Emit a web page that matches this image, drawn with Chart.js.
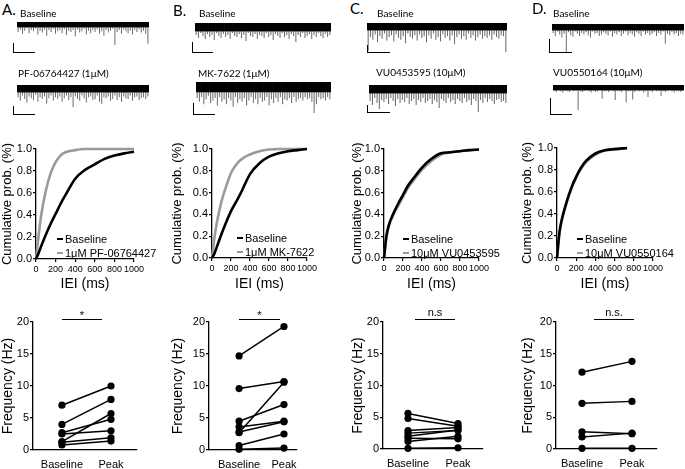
<!DOCTYPE html>
<html><head><meta charset="utf-8">
<script src="https://cdn.jsdelivr.net/npm/chart.js@4.4.0/dist/chart.umd.min.js"></script>
<style>
body{margin:0;width:685px;height:469px;position:relative;background:#fff;overflow:hidden;font-family:"Liberation Sans",Arial,sans-serif;color:#000}
.abs{position:absolute}
.lbl{position:absolute;font-family:Lato,"Open Sans",sans-serif;font-size:10px;white-space:nowrap;line-height:12px}
.pl{position:absolute;font-family:Lato,"Open Sans",sans-serif;font-size:15px;line-height:16px}
.sb{position:absolute;border-left:1.5px solid #000;border-bottom:1.5px solid #000;box-sizing:border-box}
.leg{position:absolute;font-size:11px;white-space:nowrap;line-height:14px}
.leg i{display:inline-block;width:6px;height:2.5px;vertical-align:middle;margin-right:2px;position:relative;top:-1px}
.sig{position:absolute;border-top:1.3px solid #000}
.sigt{position:absolute;font-size:11px;line-height:11px;text-align:center;white-space:nowrap}
</style></head><body>
<script>
// ---------------- DATA ----------------
const panelLetters = ['A.', 'B.', 'C.', 'D.'];
const traceBaselineLabel = 'Baseline';
const drugLabels = ['PF-06764427 (1μM)', 'MK-7622 (1μM)', 'VU0453595 (10μM)', 'VU0550164 (10μM)'];
const legendBaseline = 'Baseline';
const legendDrug = ['1μM PF-06764427', '1μM MK-7622', '10μM VU0453595', '10μM VU0550164'];
const freqCategories = ['Baseline', 'Peak'];
const sigLabels = ['*', '*', 'n.s', 'n.s.'];
const cdfXTicks = [0, 200, 400, 600, 800, 1000];
const cdfYTicks = [0, 0.2, 0.4, 0.6, 0.8, 1.0];
const freqYTicks = [0, 5, 10, 15, 20];

// example traces: event amplitudes per time bin (pA, downward), noise band +/- traceNoise
const traceNoise = 4;
const traceA_base = [12,8,15,10,6,14,9,11,7,16,10,13,8,18,9,12,7,15,11,9,14,8,17,10,12,9,19,8,13,11,7,16,10,14,9,12,8,15,11,18,9,13,10,7,33,12,9,15,8,11,14,10,16,9,12,8,13,10,15,31];
const traceA_drug = [10,14,8,12,16,9,11,13,7,15,10,12,9,17,11,8,14,10,12,9,15,11,8,13,10,21,9,12,14,8,11,16,10,9,13,12,8,15,18,10,11,9,14,12,8,13,10,15,9,11,12,8,14,10,9,13,11,10,12,9];
const traceB_base = [8,11,6,9,12,7,10,8,13,6,9,11,7,10,8,12,6,9,10,7,11,8,14,6,9,10,7,12,8,9,11,6,10,8,13,7,9,11,6,10,8,12,7,9,15,8,10,6,11,9,7,12,8,10,6,9,11,7,10,8];
const traceB_drug = [9,12,8,14,10,7,13,11,9,15,8,12,10,14,9,11,16,8,13,10,12,9,15,11,8,13,10,14,9,12,11,8,15,10,13,9,12,8,14,10,11,9,13,8,12,10,9,11,8,10,9,12,21,14,8,10,9,11,8,10];
const traceC_base = [28,12,15,9,18,11,14,8,16,12,10,17,9,13,15,11,19,8,12,14,10,16,9,13,11,18,10,14,8,15,12,17,9,13,11,16,10,20,12,9,14,11,15,8,13,10,16,12,9,14,11,13,10,15,9,12,14,10,11,29];
const traceC_drug = [12,16,9,14,20,11,13,10,15,9,12,17,10,14,11,13,9,15,12,10,16,11,13,9,14,12,10,15,11,13,19,10,12,14,9,13,11,15,10,12,14,9,13,11,16,10,12,23,11,14,9,13,10,12,15,11,10,13,12,14];
const traceD_base = [8,12,6,10,14,9,33,7,11,13,6,9,12,8,10,7,11,14,6,9,8,12,10,7,9,11,6,13,8,10,7,12,9,6,11,8,10,13,7,9,12,6,10,8,11,9,7,12,8,10,6,22,9,11,7,10,8,12,9,10];
const traceD_drug = [5,7,4,6,8,5,6,7,4,6,5,36,6,7,5,4,6,8,5,7,6,4,18,6,5,7,4,6,20,5,6,7,4,24,6,5,19,7,4,6,5,8,6,15,5,7,4,6,5,14,6,7,5,4,6,8,5,6,7,5];

// cumulative probability of inter-event interval (ms)
const ieiGrid  = [0, 25, 50, 100, 150, 200, 250, 300, 400, 500, 600, 700, 800, 900, 1000];
const ieiGridD = [0, 25, 50, 100, 150, 200, 250, 300, 400, 500, 600, 730];
const cdfA_base = [0, 0.05, 0.11, 0.22, 0.32, 0.41, 0.50, 0.58, 0.73, 0.81, 0.86, 0.91, 0.94, 0.96, 0.975];
const cdfA_drug = [0, 0.20, 0.38, 0.62, 0.78, 0.88, 0.94, 0.97, 0.99, 1.0, 1.0, 1.0, 1.0, 1.0, 1.0];
const cdfB_base = [0, 0.04, 0.10, 0.22, 0.33, 0.43, 0.51, 0.59, 0.77, 0.87, 0.93, 0.96, 0.98, 0.99, 1.0];
const cdfB_drug = [0, 0.18, 0.32, 0.52, 0.66, 0.78, 0.85, 0.90, 0.95, 0.98, 0.995, 1.0, 1.0, 1.0, 1.0];
const cdfC_base = [0, 0.20, 0.30, 0.41, 0.50, 0.58, 0.66, 0.72, 0.83, 0.91, 0.96, 0.97, 0.98, 0.99, 0.995];
const cdfC_drug = [0, 0.19, 0.29, 0.40, 0.48, 0.56, 0.64, 0.70, 0.81, 0.89, 0.95, 0.97, 0.98, 0.99, 0.995];
const cdfD_base = [0, 0.23, 0.35, 0.51, 0.64, 0.74, 0.82, 0.88, 0.95, 0.98, 0.99, 1.0];
const cdfD_drug = [0, 0.22, 0.34, 0.50, 0.63, 0.73, 0.81, 0.87, 0.94, 0.98, 0.99, 1.0];

// frequency (Hz), paired cells: baseline -> peak
const freqA_base = [7.0, 4.0, 2.7, 1.3, 2.5, 1.2, 0.8];
const freqA_peak = [10.0, 7.9, 4.8, 5.7, 3.0, 1.9, 1.4];
const freqB_base = [14.7, 9.6, 2.7, 4.5, 3.6, 2.8, 0.7, 0.1];
const freqB_peak = [19.3, 10.7, 10.6, 7.1, 4.5, 4.4, 2.5, 0.3];
const freqC_base = [5.6, 4.8, 2.9, 2.5, 2.0, 1.7, 1.2, 0.1];
const freqC_peak = [4.0, 3.6, 3.4, 2.9, 3.0, 1.6, 2.0, 0.2];
const freqD_base = [12.1, 7.2, 2.7, 1.9, 0.1];
const freqD_peak = [13.8, 7.5, 2.4, 2.5, 0.1];

// ---------------- LAYOUT ----------------
const FONT = '"Liberation Sans", Arial, sans-serif';
Chart.defaults.font.family = FONT;
Chart.defaults.color = '#000';
Chart.defaults.animation = false;
Chart.defaults.plugins.legend.display = false;
Chart.defaults.plugins.tooltip.enabled = false;

const traces = [
  [traceA_base, traceA_drug], [traceB_base, traceB_drug],
  [traceC_base, traceC_drug], [traceD_base, traceD_drug]
];
const cdfs = [
  [ieiGrid, cdfA_base, cdfA_drug], [ieiGrid, cdfB_base, cdfB_drug],
  [ieiGrid, cdfC_base, cdfC_drug], [ieiGridD, cdfD_base, cdfD_drug]
];
const freqs = [
  [freqA_base, freqA_peak], [freqB_base, freqB_peak],
  [freqC_base, freqC_peak], [freqD_base, freqD_peak]
];

const colLeft = [0, 170, 350, 520];
const colRight = [170, 350, 520, 685];
// trace boxes: [left, right, top, bottom]
const traceBoxes = [
  [[17,149,22,45],[17,149,85,107]],
  [[195,331,23,42],[196,331,82,113]],
  [[367,507,23,52],[369,507,85,112]],
  [[552,684,24,52],[553,684,85,110]]
];
const scaleBars = [
  [[13,43,22,10],[13,106,22,9]],
  [[192,42,21,11],[193,103,22,12]],
  [[367,45,23,8],[367,105,23,8]],
  [[549,39,23,14],[550,98,22,17]]
];
const letterPos = [[2,1],[173,2],[350,0],[532,0]];
const basePos = [[20,7],[199,7],[377,7],[553,7]];
const drugPos = [[18,67],[198,67],[376,66],[553,66]];
const cdfAreas = [
  {l:36,t:149,r:134,b:259},{l:212,t:149,r:307,b:258},
  {l:384,t:149,r:479,b:258},{l:557,t:148,r:653,b:258}
];
const legendPos = [[57,232],[237,231],[403,232],[577,232]];
const freqAreas = [
  {l:33,t:322,r:137,b:450},{l:209,t:322,r:297,b:450},
  {l:383,t:322,r:483,b:449},{l:556,t:322,r:657,b:449}
];
const freqXRange = [[-0.59,1.53],[-0.67,1.29],[-0.5,1.5],[-0.52,1.5]];
const sigPos = [[62,102,319],[239,280,319],[415,455,319],[594,634,319]];

function addEl(cls, css, html){
  const d = document.createElement('div');
  d.className = cls;
  Object.assign(d.style, css);
  if (html !== undefined) d.innerHTML = html;
  document.body.appendChild(d);
  return d;
}
function makeCanvas(l, t, w, h){
  const d = addEl('abs', {left:l+'px', top:t+'px', width:w+'px', height:h+'px'});
  const c = document.createElement('canvas');
  c.width = w; c.height = h;
  c.style.width = w+'px'; c.style.height = h+'px';
  d.appendChild(c);
  return c;
}
function axisCommon(){
  return {
    border:{display:true, color:'#000', width:1.3},
    grid:{display:true, drawOnChartArea:false, drawTicks:true, tickLength:3, color:'#000', lineWidth:1.2}
  };
}

// traces
traces.forEach((pair, i) => {
  pair.forEach((arr, j) => {
    const [l, r, t, b] = traceBoxes[i][j];
    const cv = makeCanvas(l, t, r - l, b - t);
    new Chart(cv, {
      type:'bar',
      data:{
        labels: arr.map((_, k) => k),
        datasets:[
          {data: arr.map(() => [-traceNoise, traceNoise]), backgroundColor:'#000', barPercentage:1, categoryPercentage:1, grouped:false, borderWidth:0},
          {data: arr.map(v => [-v, 0]), backgroundColor:'#6a6a6a', barPercentage:0.45, categoryPercentage:1, grouped:false, borderWidth:0}
        ]
      },
      options:{
        responsive:false,
        layout:{autoPadding:false, padding:0},
        scales:{
          x:{display:false},
          y:{display:false, min: -Math.max(...arr), max: traceNoise}
        }
      }
    });
  });
});

// CDF charts
cdfs.forEach(([grid, base, drug], i) => {
  const A = cdfAreas[i];
  const bl = colLeft[i], br = colRight[i], bt = 130, bb = 293;
  const cv = makeCanvas(bl, bt, br - bl, bb - bt);
  const xs = axisCommon(), ys = axisCommon();
  new Chart(cv, {
    type:'line',
    data:{datasets:[
      {data: grid.map((x, k) => ({x, y: base[k]})), borderColor:'#000', borderWidth:2.6, pointRadius:0, cubicInterpolationMode:'monotone', clip:false},
      {data: grid.map((x, k) => ({x, y: drug[k]})), borderColor:'#9a9a9a', borderWidth:2.6, pointRadius:0, cubicInterpolationMode:'monotone', clip:false}
    ]},
    options:{
      responsive:false,
      layout:{autoPadding:false, padding:{left:0, top:A.t - bt, right:br - A.r, bottom:0}},
      scales:{
        x:Object.assign(xs, {
          type:'linear', min:0, max:1000,
          afterBuildTicks: s => { s.ticks = cdfXTicks.map(v => ({value:v})); },
          afterFit: s => { s.height = bb - A.b; },
          ticks:{font:{size:9}, padding:2, maxRotation:0, autoSkip:false, callback: v => String(v)},
          title:{display:true, text:'IEI (ms)', font:{size:14}, padding:{top:0, bottom:0}}
        }),
        y:Object.assign(ys, {
          type:'linear', min:0, max:1,
          afterBuildTicks: s => { s.ticks = cdfYTicks.map(v => ({value:v})); },
          afterFit: s => { s.width = A.l - bl; },
          ticks:{font:{size:11}, padding:1, callback: v => Number(v).toFixed(1)},
          title:{display:true, text:'Cumulative prob. (%)', font:{size:13}, padding:{top:0, bottom:0}}
        })
      }
    }
  });
});

// Frequency charts
freqs.forEach(([base, peak], i) => {
  const A = freqAreas[i];
  const bl = colLeft[i], br = colRight[i], bt = 300, bb = 469;
  const cv = makeCanvas(bl, bt, br - bl, bb - bt);
  const xs = axisCommon(), ys = axisCommon();
  xs.grid.drawTicks = false;
  new Chart(cv, {
    type:'line',
    data:{datasets: base.map((b, k) => ({
      data:[{x:0, y:b}, {x:1, y:peak[k]}],
      borderColor:'#000', borderWidth:1.5, pointRadius:3.6, pointBackgroundColor:'#000',
      pointBorderColor:'#000', pointBorderWidth:0, clip:false
    }))},
    options:{
      responsive:false,
      layout:{autoPadding:false, padding:{left:0, top:A.t - bt, right:br - A.r, bottom:0}},
      scales:{
        x:Object.assign(xs, {
          type:'linear', min:freqXRange[i][0], max:freqXRange[i][1],
          afterBuildTicks: s => { s.ticks = freqCategories.map((_, k) => ({value:k})); },
          afterFit: s => { s.height = bb - A.b; },
          ticks:{font:{size:11}, padding:8, maxRotation:0, autoSkip:false, callback: v => freqCategories[v]}
        }),
        y:Object.assign(ys, {
          type:'linear', min:0, max:20,
          afterBuildTicks: s => { s.ticks = freqYTicks.map(v => ({value:v})); },
          afterFit: s => { s.width = A.l - bl; },
          ticks:{font:{size:11}, padding:1},
          title:{display:true, text:'Frequency (Hz)', font:{size:14}, padding:{top:0, bottom:0}}
        })
      }
    }
  });
});

// text overlays
panelLetters.forEach((t, i) => {
  addEl('pl', {left:letterPos[i][0]+'px', top:letterPos[i][1]+'px'}, t);
  addEl('lbl', {left:basePos[i][0]+'px', top:basePos[i][1]+'px'}, traceBaselineLabel);
  addEl('lbl', {left:drugPos[i][0]+'px', top:drugPos[i][1]+'px'}, drugLabels[i]);
  scaleBars[i].forEach(([l, t2, w, h]) => addEl('sb', {left:l+'px', top:t2+'px', width:w+'px', height:h+'px'}));
  const [lx, ly] = legendPos[i];
  addEl('leg', {left:lx+'px', top:ly+'px'},
    '<div><i style="background:#000"></i>' + legendBaseline + '</div>' +
    '<div><i style="background:#9a9a9a"></i>' + legendDrug[i] + '</div>');
  const [s0, s1, sy] = sigPos[i];
  addEl('sig', {left:s0+'px', top:sy+'px', width:(s1 - s0)+'px'});
  addEl('sigt', {left:s0+'px', width:(s1 - s0)+'px', top:(sy - (sigLabels[i] === '*' ? 9 : 12))+'px'}, sigLabels[i]);
});
</script>
</body></html>
